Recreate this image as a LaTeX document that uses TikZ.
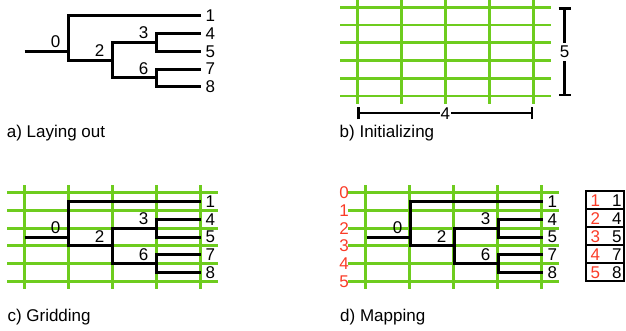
\documentclass[tikz,border=0pt]{standalone}
\usepackage{fontspec}
\setmainfont{Liberation Sans}
\usetikzlibrary{arrows.meta}

\definecolor{gridgreen}{RGB}{110,204,30}
\definecolor{mapred}{RGB}{250,60,40}

\tikzset{
  every node/.style={font=\fontsize{17pt}{20pt}\selectfont, inner sep=0pt},
  gridline/.style={draw=gridgreen, line width=2.8pt},
  branch/.style={draw=black, line width=3pt, line join=miter},
  leaflabel/.style={anchor=west},
  innerlabel/.style={anchor=base east},
  caption/.style={anchor=base west},
  dimline/.style={draw=black, line width=2.3pt, {Bar[width=12pt]}-{Bar[width=12pt]}},
  dimlabel/.style={fill=white, inner xsep=0.5pt, inner ysep=3pt},
  rowlabel/.style={text=mapred, anchor=east},
  maprow/.style={draw=black, line width=2pt, minimum width=38.3pt, minimum height=18pt},
}

\newcommand\rowh{17.72}
\newcommand\colw{44}

% green grid of 5 columns and 6 rows, top-left crossing at (#1,#2)
\newcommand\greengrid[2]{%
  \begin{scope}[shift={(#1,#2)}]
    \foreach \gi in {0,...,4}
      \draw[gridline] ({\gi*\colw},-7.7) -- ({\gi*\colw},{5*\rowh+7.7});
    \foreach \gj in {0,...,5}
      \draw[gridline] (-17.3,{\gj*\rowh}) -- ({4*\colw+17.3},{\gj*\rowh});
  \end{scope}}

% rooted tree with leaves 1,4,5,7,8 and inner nodes 0,2,3,6; prefix #1
\newcommand\cladetree[3]{%
  \begin{scope}[shift={(#2,#3)}]
    \coordinate (#1root) at (0,{2.5*\rowh});
    \coordinate (#1n0t) at (\colw,{0.5*\rowh});
    \coordinate (#1n0m) at (\colw,{2.5*\rowh});
    \coordinate (#1n0b) at (\colw,{3*\rowh});
    \coordinate (#1n2t) at ({2*\colw},{2*\rowh});
    \coordinate (#1n2m) at ({2*\colw},{3*\rowh});
    \coordinate (#1n2b) at ({2*\colw},{4*\rowh});
    \coordinate (#1n3t) at ({3*\colw},{1.5*\rowh});
    \coordinate (#1n3m) at ({3*\colw},{2*\rowh});
    \coordinate (#1n3b) at ({3*\colw},{2.5*\rowh});
    \coordinate (#1n6t) at ({3*\colw},{3.5*\rowh});
    \coordinate (#1n6m) at ({3*\colw},{4*\rowh});
    \coordinate (#1n6b) at ({3*\colw},{4.5*\rowh});
    \foreach \lk/\ly in {1/0.5,4/1.5,5/2.5,7/3.5,8/4.5} {
      \coordinate (#1tip\lk) at ({4*\colw},{\ly*\rowh});
      \node[leaflabel] (#1leaf\lk) at ([xshift=5pt]#1tip\lk) {\lk};
    }
    \draw[branch] (#1root) -- (#1n0m);
    \draw[branch] (#1tip1) -- (#1n0t) -- (#1n0b) -- (#1n2m);
    \draw[branch] (#1n3m) -- (#1n2t) -- (#1n2b) -- (#1n6m);
    \draw[branch] (#1tip4) -- (#1n3t) -- (#1n3b) -- (#1tip5);
    \draw[branch] (#1tip7) -- (#1n6t) -- (#1n6b) -- (#1tip8);
    \node[innerlabel] (#1lab0) at ([shift={(-8,-3.5)}]#1n0m) {0};
    \node[innerlabel] (#1lab2) at ([shift={(-8,-3.5)}]#1n2m) {2};
    \node[innerlabel] (#1lab3) at ([shift={(-8,-3.5)}]#1n3m) {3};
    \node[innerlabel] (#1lab6) at ([shift={(-8,-3.5)}]#1n6m) {6};
  \end{scope}}

\begin{document}
\begin{tikzpicture}[x=1pt,y=-1pt]
  \useasboundingbox (0,0) rectangle (626,330);

  % a) the tree alone
  \cladetree{a}{24.5}{7}
  \node[caption] (capa) at (6.6,137) {a) Laying out};

  % b) empty grid with its dimensions
  \greengrid{357.3}{7.3}
  \coordinate (vtop) at (564.5,7.3);
  \coordinate (vbot) at (564.5,96);
  \draw[dimline] (vtop) -- node[dimlabel] (dimv) {5} (vbot);
  \coordinate (hleft) at (357.3,113.3);
  \coordinate (hright) at (533.3,113.3);
  \draw[dimline] (hleft) -- node[dimlabel] (dimh) {4} (hright);
  \node[caption] (capb) at (339.5,137) {b) Initializing};

  % c) tree placed on the grid
  \greengrid{24.3}{192.7}
  \cladetree{c}{24.5}{192.7}
  \node[caption] (capc) at (7.3,321) {c) Gridding};

  % d) grid rows numbered, and the row-to-leaf table
  \greengrid{365.7}{192.7}
  \cladetree{d}{366.5}{192.7}
  \foreach \j in {0,...,5}
    \node[rowlabel] (drow\j) at (349,{192.7+\j*\rowh}) {\j};
  \foreach \mk/\mv [count=\mn from 0] in {1/1,2/4,3/5,4/7,5/8} {
    \node[maprow] (map\mk) at (604.85,{199.7+\mn*18}) {};
    \node[text=mapred] (mapl\mk) at ([shift={(-9.4,1)}]map\mk.center) {\mk};
    \node (mapr\mk) at ([shift={(12.1,1)}]map\mk.center) {\mv};
  }
  \node[caption] (capd) at (340,321) {d) Mapping};
\end{tikzpicture}
\end{document}
